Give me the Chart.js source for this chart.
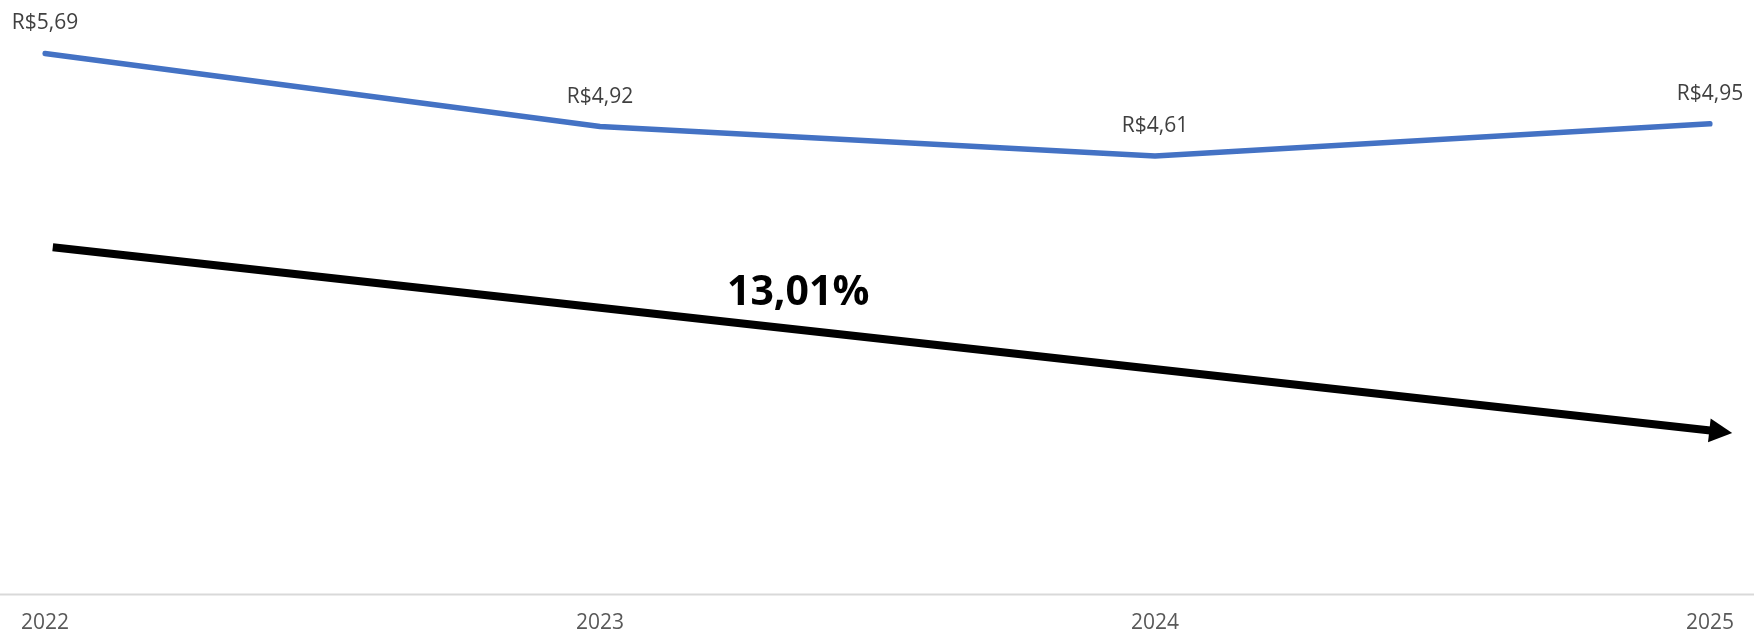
<!DOCTYPE html>
<html>
<head>
<meta charset="utf-8">
<script src="https://cdn.jsdelivr.net/npm/chart.js@4"></script>
<style>
  html, body { margin: 0; padding: 0; background: #fff; }
  #wrap { width: 1754px; height: 638px; position: relative; }
</style>
</head>
<body>
<div id="wrap"><canvas id="priceChart"></canvas></div>
<script>
const years = ['2022', '2023', '2024', '2025'];
const prices = [5.69, 4.92, 4.61, 4.95];
// trend arrow in data units: [category index, value]
const arrowFrom = [0.014, 3.65];
const arrowTo = [3.04, 1.695];
const arrowText = '13,01%';
const arrowTextAt = [1.357, 3.04];

const fmt = v => 'R$' + v.toFixed(2).replace('.', ',');

const extras = {
  id: 'extras',
  beforeDatasetsDraw(chart) {
    const { ctx, scales: { y } } = chart;
    const y0 = Math.round(y.getPixelForValue(0)) + 0.5;
    ctx.save();
    ctx.strokeStyle = '#d9d9d9';
    ctx.lineWidth = 2;
    ctx.beginPath();
    ctx.moveTo(0, y0);
    ctx.lineTo(chart.width, y0);
    ctx.stroke();
    ctx.restore();
  },
  afterDatasetsDraw(chart) {
    const { ctx, scales: { x, y } } = chart;
    const meta = chart.getDatasetMeta(0);
    ctx.save();
    ctx.font = '21px "Open Sans"';
    ctx.fillStyle = '#404040';
    ctx.textAlign = 'center';
    ctx.textBaseline = 'alphabetic';
    meta.data.forEach((pt, i) => {
      ctx.fillText(fmt(prices[i]), pt.x, pt.y - 24);
    });

    // arrow
    const x1 = x.getPixelForValue(arrowFrom[0]), y1 = y.getPixelForValue(arrowFrom[1]);
    const x2 = x.getPixelForValue(arrowTo[0]), y2 = y.getPixelForValue(arrowTo[1]);
    const ang = Math.atan2(y2 - y1, x2 - x1);
    const headLen = 23, headHalf = 12;
    const bx = x2 - headLen * Math.cos(ang), by = y2 - headLen * Math.sin(ang);
    ctx.strokeStyle = '#000';
    ctx.fillStyle = '#000';
    ctx.lineWidth = 8;
    ctx.lineCap = 'butt';
    ctx.beginPath();
    ctx.moveTo(x1, y1);
    ctx.lineTo(bx + Math.cos(ang), by + Math.sin(ang));
    ctx.stroke();
    ctx.beginPath();
    ctx.moveTo(x2, y2);
    ctx.lineTo(bx + headHalf * Math.sin(ang), by - headHalf * Math.cos(ang));
    ctx.lineTo(bx - headHalf * Math.sin(ang), by + headHalf * Math.cos(ang));
    ctx.closePath();
    ctx.fill();

    ctx.font = 'bold 41px "Open Sans"';
    ctx.fillText(arrowText, x.getPixelForValue(arrowTextAt[0]), y.getPixelForValue(arrowTextAt[1]));
    ctx.restore();
  }
};

new Chart(document.getElementById('priceChart'), {
  type: 'line',
  data: {
    labels: years,
    datasets: [{
      data: prices,
      borderColor: '#4472C4',
      borderWidth: 5.5,
      borderCapStyle: 'round',
      borderJoinStyle: 'round',
      pointRadius: 0,
      tension: 0,
      fill: false
    }]
  },
  options: {
    responsive: true,
    maintainAspectRatio: false,
    animation: false,
    devicePixelRatio: 1,
    layout: { padding: { left: 45, right: 44, top: 24, bottom: 0 } },
    plugins: { legend: { display: false }, tooltip: { enabled: false } },
    scales: {
      x: {
        grid: { display: false },
        border: { display: false },
        ticks: { color: '#595959', font: { family: 'Open Sans', size: 21 }, padding: 8, maxRotation: 0 },
        afterFit(scale) { scale.height = 44; }
      },
      y: { display: false, min: 0, max: 6 }
    }
  },
  plugins: [extras]
});
</script>
</body>
</html>
